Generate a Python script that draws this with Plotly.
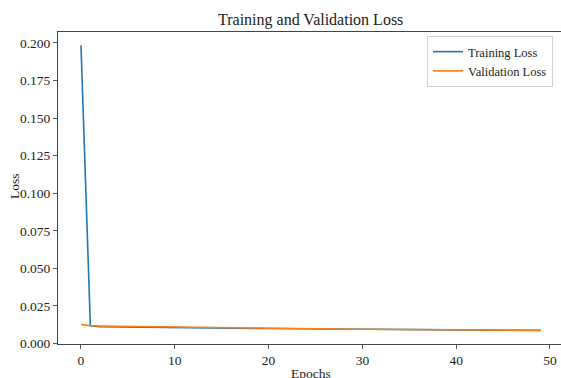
import plotly.graph_objects as go

epochs = list(range(50))
train_loss = [0.1985, 0.0118, 0.0112, 0.0111, 0.0110, 0.0109, 0.0108, 0.0108, 0.0107, 0.0106,
              0.0105, 0.0105, 0.0104, 0.0103, 0.0103, 0.0102, 0.0102, 0.0101, 0.0101, 0.0100,
              0.0100, 0.0099, 0.0099, 0.0098, 0.0098, 0.0097, 0.0097, 0.0096, 0.0096, 0.0096,
              0.0095, 0.0095, 0.0094, 0.0094, 0.0094, 0.0093, 0.0093, 0.0092, 0.0092, 0.0092,
              0.0091, 0.0091, 0.0091, 0.0090, 0.0090, 0.0089, 0.0089, 0.0089, 0.0088, 0.0087]
val_loss = [0.0127, 0.0119, 0.0117, 0.0116, 0.0115, 0.0114, 0.0113, 0.0112, 0.0111, 0.0110,
            0.0109, 0.0108, 0.0107, 0.0106, 0.0105, 0.0104, 0.0103, 0.0102, 0.0101, 0.0100,
            0.0100, 0.0099, 0.0099, 0.0098, 0.0098, 0.0097, 0.0097, 0.0096, 0.0096, 0.0095,
            0.0095, 0.0094, 0.0094, 0.0094, 0.0093, 0.0093, 0.0093, 0.0092, 0.0092, 0.0092,
            0.0091, 0.0091, 0.0091, 0.0090, 0.0090, 0.0090, 0.0089, 0.0089, 0.0089, 0.0089]
x_ticks = [0, 10, 20, 30, 40, 50]
y_ticks = [0.000, 0.025, 0.050, 0.075, 0.100, 0.125, 0.150, 0.175, 0.200]
y_tick_text = ["0.000", "0.025", "0.050", "0.075", "0.100", "0.125", "0.150", "0.175", "0.200"]

FONT = "Liberation Serif"
W, H = 561, 378
L, T, B = 58, 32, 34
plot_w = W - L
plot_h = H - T - B

fig = go.Figure()
fig.add_trace(go.Scatter(x=epochs, y=train_loss, mode="lines", name="Training Loss",
                         line=dict(color="#1f77b4", width=1.6)))
fig.add_trace(go.Scatter(x=epochs, y=val_loss, mode="lines", name="Validation Loss",
                         line=dict(color="#ff7f0e", width=1.6)))

px_per_epoch = 9.38
xr0 = -2.45
xr1 = xr0 + plot_w / px_per_epoch

fig.update_layout(
    width=W, height=H,
    margin=dict(l=L, r=0, t=T, b=B, autoexpand=False),
    paper_bgcolor="white", plot_bgcolor="white",
    font=dict(family=FONT, size=13, color="#222"),
    showlegend=True,
    legend=dict(x=(553 - L) / plot_w, y=(H - B - 36) / plot_h, xanchor="right", yanchor="top",
                bgcolor="rgba(255,255,255,0.8)", bordercolor="#d0d0d0", borderwidth=1,
                font=dict(family=FONT, size=12.5, color="#222"), tracegroupgap=0,
                itemwidth=30),
    xaxis=dict(range=[xr0, xr1], tickvals=x_ticks, ticks="outside", ticklen=4, tickcolor="#555",
               showline=True, linecolor="#444", linewidth=1, mirror=True, showgrid=False,
               zeroline=False, automargin=False,
               tickfont=dict(family=FONT, size=13.5, color="#222")),
    yaxis=dict(range=[-0.0003, 0.2073], tickvals=y_ticks, ticktext=y_tick_text, ticks="outside",
               ticklen=4, tickcolor="#555", showline=True, linecolor="#444", linewidth=1,
               showgrid=False, zeroline=False, automargin=False,
               tickfont=dict(family=FONT, size=13.5, color="#222")),
    annotations=[
        dict(text="Training and Validation Loss", xref="paper", yref="paper",
             x=(310.8 - L) / plot_w, y=(H - B - 20) / plot_h, xanchor="center", yanchor="middle",
             showarrow=False, font=dict(family=FONT, size=16, color="#222")),
        dict(text="Epochs", xref="paper", yref="paper",
             x=(310.8 - L) / plot_w, y=(H - B - 373) / plot_h, xanchor="center", yanchor="middle",
             showarrow=False, font=dict(family=FONT, size=13.5, color="#222")),
        dict(text="Loss", xref="paper", yref="paper", textangle=-90,
             x=(14 - L) / plot_w, y=(H - B - 186) / plot_h, xanchor="center", yanchor="middle",
             showarrow=False, font=dict(family=FONT, size=13.5, color="#222")),
    ],
)

fig.write_html("out.html",
               config={"displayModeBar": False},
               post_script="document.body.style.margin='0';document.body.style.overflow='hidden';")
